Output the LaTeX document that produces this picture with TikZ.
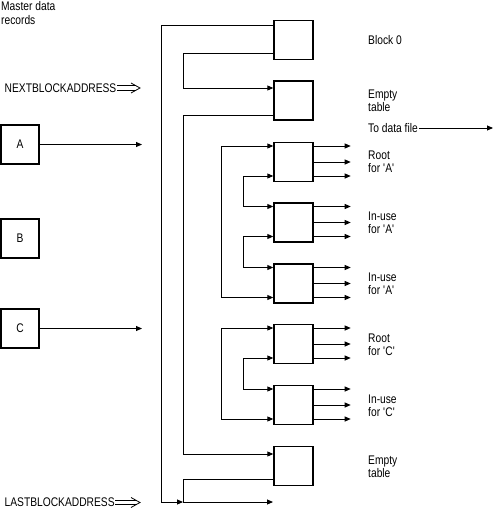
\documentclass[tikz,border=0pt]{standalone}
\usepackage{fontspec}
\setmainfont[FakeStretch=0.82]{Liberation Sans}
\usetikzlibrary{arrows.meta,calc}
\newcommand{\sq}{\textquotesingle}
\tikzset{
  rec/.style={draw, line width=1.4pt, minimum width=39pt, minimum height=39pt, inner sep=0pt},
  lbl/.style={anchor=west, align=left, inner sep=1pt, font=\fontsize{12.5}{13.4}\selectfont},
  ln/.style={line width=0.9pt},
  arr/.style={ln, -{Triangle[length=6pt,width=5pt]}},
  arrb/.style={ln, {Triangle[length=6pt,width=5pt]}-{Triangle[length=6pt,width=5pt]}},
  sh/.style={line width=0.8pt},
  chev/.style={line width=0.8pt, line join=miter}
}
\begin{document}
\begin{tikzpicture}[x=1pt, y=-1pt]
\useasboundingbox (0,0) rectangle (494,508);

% left column
\node[lbl, anchor=north west] (mdr) at (0,0.5) {Master data\\records};
\node[lbl, inner xsep=0.5pt] (nba) at (4,88) {NEXTBLOCKADDRESS};
\coordinate (nbaend) at (140,88);
\draw[sh] ([yshift=2.2pt]nba.east) -- ([yshift=2.2pt]nbaend -| 136,0);
\draw[sh] ([yshift=-2.2pt]nba.east) -- ([yshift=-2.2pt]nbaend -| 136,0);
\draw[chev] ([shift={(-9,-5)}]nbaend) -- (nbaend) -- ([shift={(-9,5)}]nbaend);

\node[rec, minimum width=38pt, font=\fontsize{12.5}{13}\selectfont] (A) at (20,144.5) {A};
\node[rec, minimum width=38pt, font=\fontsize{12.5}{13}\selectfont] (B) at (20,238.5) {B};
\node[rec, minimum width=38pt, font=\fontsize{12.5}{13}\selectfont] (C) at (20,328.5) {C};
\coordinate (aend) at (142,144.5);
\coordinate (cend) at (142,328.5);
\draw[arr] (A.east) -- (aend);
\draw[arr] (C.east) -- (cend);

\node[lbl, inner xsep=0.5pt] (lba) at (4,502.5) {LASTBLOCKADDRESS};
\coordinate (lbaend) at (140,502.5);
\draw[sh] ([yshift=2.2pt]lba.east) -- ([yshift=2.2pt]lbaend -| 136,0);
\draw[sh] ([yshift=-2.2pt]lba.east) -- ([yshift=-2.2pt]lbaend -| 136,0);
\draw[chev] ([shift={(-9,-5)}]lbaend) -- (lbaend) -- ([shift={(-9,5)}]lbaend);

% middle column
\node[rec] (b0)  at (293.5,40) {};
\node[rec] (e1)  at (293.5,100.5) {};
\node[rec] (rA)  at (293.5,162) {};
\node[rec] (uA1) at (293.5,222.5) {};
\node[rec] (uA2) at (293.5,283.5) {};
\node[rec] (rC)  at (293.5,344) {};
\node[rec] (uC)  at (293.5,405) {};
\node[rec] (e2)  at (293.5,466) {};

\coordinate (jn) at (183,502);
\coordinate (lastend) at (273,502);

% chain through blocks
\draw[arr] ([yshift=15pt]b0.west) -| (161,502) -- (jn);
\draw[arr] ([yshift=-13pt]b0.west) -| (183,88) -- ([yshift=12.5pt]e1.west);
\draw[arr] ([yshift=-14.5pt]e1.west) -| (183,454) -- ([yshift=12pt]e2.west);
\draw[arr] ([yshift=-13pt]e2.west) -| (jn) -- (lastend);

% links between record blocks
\draw[arrb] ([yshift=16pt]rA.west) -- ++(-52,0) |- ([yshift=-14pt]uA2.west);
\draw[arrb] ([yshift=-14pt]rA.west) -- ++(-30,0) |- ([yshift=16pt]uA1.west);
\draw[arrb] ([yshift=-14pt]uA1.west) -- ++(-30,0) |- ([yshift=16pt]uA2.west);
\draw[arrb] ([yshift=16pt]rC.west) -- ++(-52,0) |- ([yshift=-14pt]uC.west);
\draw[arrb] ([yshift=-14pt]rC.west) -- ++(-30,0) |- ([yshift=16pt]uC.west);

% outgoing arrows
\foreach \n in {rA,uA1,uA2,rC,uC}{
  \foreach \s in {16,0,-14}{
    \draw[arr] ([yshift=\s pt]\n.east) -- ++(37,0);
  }
}

% right labels
\node[lbl] (l0) at (367,40) {Block 0};
\node[lbl] (l1) at (367,101) {Empty\\table};
\node[lbl] (tdf) at (367,128) {To data file};
\coordinate (tdfend) at (493,128);
\draw[arr] (tdf.east) -- (tdfend);
\node[lbl] (l2) at (367,161.5) {Root\\for \sq A\sq};
\node[lbl] (l3) at (367,223) {In-use\\for \sq A\sq};
\node[lbl] (l4) at (367,284) {In-use\\for \sq A\sq};
\node[lbl] (l5) at (367,345) {Root\\for \sq C\sq};
\node[lbl] (l6) at (367,406) {In-use\\for \sq C\sq};
\node[lbl] (l7) at (367,467) {Empty\\table};
\end{tikzpicture}
\end{document}
